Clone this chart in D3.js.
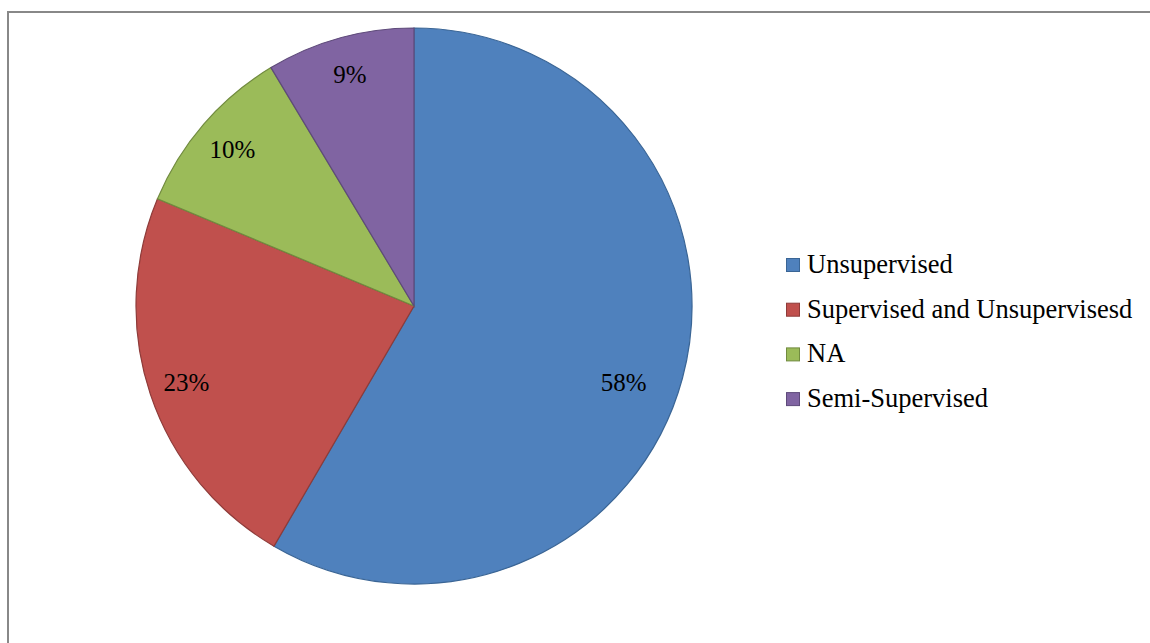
<!DOCTYPE html>
<html><head><meta charset="utf-8">
<script src="https://cdn.jsdelivr.net/npm/d3@7"></script>
<style>body{margin:0;background:#fff}svg{display:block}text{font-family:"Liberation Serif","Times New Roman",serif}</style>
</head><body>
<script>
const categories = ["Unsupervised", "Supervised and Unsupervisesd", "NA", "Semi-Supervised"];
const values = [58.4, 22.9, 10.1, 8.6];
const fills = ["#4F81BD", "#C0504D", "#9BBB59", "#8064A2"];
const strokes = ["#3A6595", "#8E3B39", "#718B3F", "#5E4A7A"];

const W = 1150, H = 643;
const svg = d3.select("body").append("svg").attr("width", W).attr("height", H);
svg.append("rect").attr("x", 8).attr("y", 12).attr("width", W).attr("height", H)
  .attr("fill", "#fff").attr("stroke", "#888").attr("stroke-width", 2);

const cx = 414, cy = 306, R = 278;
const total = d3.sum(values);
const pie = d3.pie().sort(null).value(d => d)(values);
const arc = d3.arc().innerRadius(0).outerRadius(R);
const g = svg.append("g").attr("transform", `translate(${cx},${cy})`);
g.selectAll("path").data(pie).join("path")
  .attr("d", arc).attr("fill", (d, i) => fills[i]).attr("stroke", (d, i) => strokes[i]).attr("stroke-width", 1.2);

const labelArc = d3.arc().innerRadius(240).outerRadius(240);
g.selectAll("text.lbl").data(pie).join("text").attr("class", "lbl")
  .attr("transform", d => {
    const c = labelArc.centroid(d);
    // keep the label box inside the pie edge on the right-hand side
    const x = c[0] > 150 ? c[0] - 22 : c[0];
    const y = c[0] > 150 ? c[1] + 14 : c[1];
    return `translate(${x},${y})`;
  })
  .attr("text-anchor", "middle").attr("dy", "0.35em")
  .attr("font-size", 25).attr("fill", "#000")
  .text(d => Math.round(d.value / total * 100) + "%");

const lg = svg.append("g");
const rows = lg.selectAll("g").data(categories).join("g")
  .attr("transform", (d, i) => `translate(786,${265 + i * 44.7})`);
rows.append("rect").attr("x", 0.5).attr("y", -6.5).attr("width", 13).attr("height", 13)
  .attr("fill", (d, i) => fills[i]).attr("stroke", (d, i) => strokes[i]).attr("stroke-width", 1);
rows.append("text").attr("x", 21).attr("y", 8)
  .attr("font-size", 26.5).attr("fill", "#000")
  .text(d => d);
</script>
</body></html>
